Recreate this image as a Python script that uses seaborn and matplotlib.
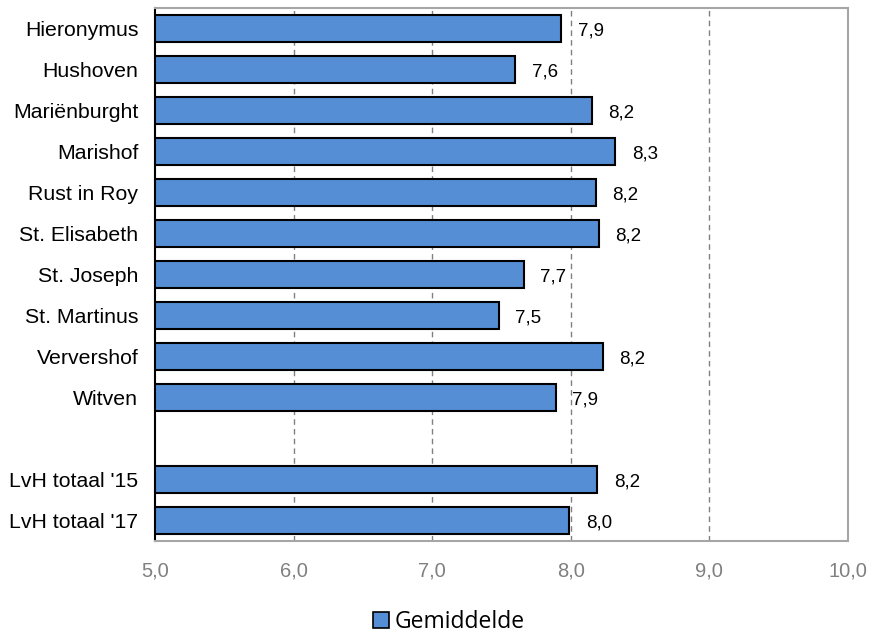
import matplotlib
matplotlib.use("Agg")
import matplotlib.pyplot as plt
import seaborn as sns
import pandas as pd
from matplotlib.patches import Patch

categories = ["Hieronymus", "Hushoven", "Mariënburght", "Marishof", "Rust in Roy",
              "St. Elisabeth", "St. Joseph", "St. Martinus", "Ververshof", "Witven",
              " ", "LvH totaal '15", "LvH totaal '17"]
values = [7.93, 7.60, 8.15, 8.32, 8.18, 8.20, 7.66, 7.48, 8.23, 7.89, None, 8.19, 7.99]
value_labels = ["7,9", "7,6", "8,2", "8,3", "8,2", "8,2", "7,7", "7,5", "8,2", "7,9", None, "8,2", "8,0"]
x_ticks = [5, 6, 7, 8, 9, 10]
x_tick_labels = ["5,0", "6,0", "7,0", "8,0", "9,0", "10,0"]
series_name = "Gemiddelde"

sns.set_theme(style="white")
plt.rcParams['font.family'] = ['Liberation Sans', 'DejaVu Sans']
plt.rcParams['text.color'] = 'black'

df = pd.DataFrame({"cat": categories, "val": values})
df_plot = df.dropna()

fig = plt.figure(figsize=(8.7, 6.35), dpi=100)
ax = fig.add_axes([155/870, 1-541/635, (848-155)/870, (541-8)/635])

bar_color = "#558ED5"
sns.barplot(data=df_plot, y="cat", x="val", order=categories, orient="h",
            color=bar_color, edgecolor="black", linewidth=1.5, width=0.68,
            saturation=1, ax=ax)

ax.set_xlim(5, 10)
ax.set_ylim(len(categories) - 0.5, -0.5)
ax.set_xticks(x_ticks)
ax.set_xticklabels(x_tick_labels, color="#808080", fontsize=14.5)
ax.set_xlabel("")
ax.set_ylabel("")
ax.tick_params(axis="y", length=0, labelsize=15.3, labelcolor="black", pad=12)
ax.tick_params(axis="x", direction="in", length=5, color="#a6a6a6", pad=15)

for x in x_ticks[1:-1]:
    ax.axvline(x, color="#808080", linestyle=(0, (4, 3)), linewidth=1, zorder=0)

for sp in ["top", "right", "bottom"]:
    ax.spines[sp].set_color("#a6a6a6")
    ax.spines[sp].set_linewidth(1.5)
ax.spines["left"].set_color("black")
ax.spines["left"].set_linewidth(1.5)

for i, (v, lab) in enumerate(zip(values, value_labels)):
    if v is None:
        continue
    ax.annotate(lab, xy=(v, i), xytext=(12, -1.5), textcoords="offset points",
                ha="left", va="center", fontsize=13.5, color="black")

handle = Patch(facecolor=bar_color, edgecolor="black", linewidth=1.2, label=series_name)
fig.legend(handles=[handle], loc="center", bbox_to_anchor=(449/870, 1-622/635),
           frameon=False, handlelength=0.7, handleheight=0.7, handletextpad=0.25,
           labelcolor="black",
           prop={"family": ["Open Sans", "DejaVu Sans"], "size": 16.5})

fig.savefig("out.png", dpi=100)
